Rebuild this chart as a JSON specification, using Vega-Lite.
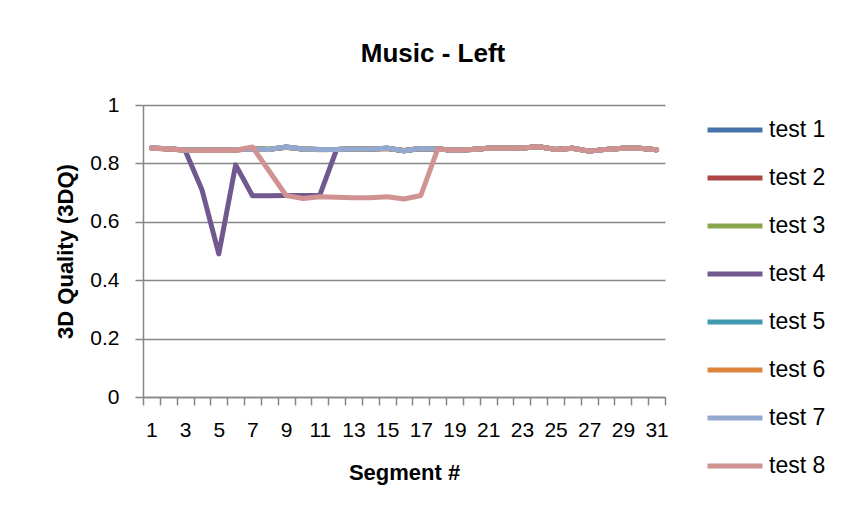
{
  "$schema": "https://vega.github.io/schema/vega-lite/v6.json",
  "width": 522,
  "height": 292,
  "autosize": {"type": "none"},
  "padding": {"left": 143, "top": 105, "right": 178, "bottom": 116},
  "background": "white",
  "title": {"text": "Music - Left", "fontSize": 26, "font": "Liberation Sans", "fontWeight": "bold", "anchor": "middle", "dx": 29, "offset": 27, "color": "black"},
  "data": {"values": [
    {"seg": 1, "test 1": 0.852, "test 2": 0.853, "test 3": 0.852, "test 4": 0.853, "test 5": 0.853, "test 6": 0.852, "test 7": 0.853, "test 8": 0.853},
    {"seg": 2, "test 1": 0.850, "test 2": 0.849, "test 3": 0.850, "test 4": 0.850, "test 5": 0.850, "test 6": 0.849, "test 7": 0.850, "test 8": 0.850},
    {"seg": 3, "test 1": 0.846, "test 2": 0.846, "test 3": 0.845, "test 4": 0.845, "test 5": 0.846, "test 6": 0.846, "test 7": 0.846, "test 8": 0.845},
    {"seg": 4, "test 1": 0.846, "test 2": 0.845, "test 3": 0.846, "test 4": 0.710, "test 5": 0.846, "test 6": 0.845, "test 7": 0.846, "test 8": 0.845},
    {"seg": 5, "test 1": 0.846, "test 2": 0.846, "test 3": 0.846, "test 4": 0.490, "test 5": 0.845, "test 6": 0.846, "test 7": 0.846, "test 8": 0.845},
    {"seg": 6, "test 1": 0.847, "test 2": 0.846, "test 3": 0.847, "test 4": 0.795, "test 5": 0.847, "test 6": 0.847, "test 7": 0.847, "test 8": 0.845},
    {"seg": 7, "test 1": 0.849, "test 2": 0.850, "test 3": 0.849, "test 4": 0.689, "test 5": 0.849, "test 6": 0.850, "test 7": 0.849, "test 8": 0.856},
    {"seg": 8, "test 1": 0.848, "test 2": 0.848, "test 3": 0.849, "test 4": 0.689, "test 5": 0.848, "test 6": 0.848, "test 7": 0.848, "test 8": 0.773},
    {"seg": 9, "test 1": 0.855, "test 2": 0.856, "test 3": 0.855, "test 4": 0.690, "test 5": 0.856, "test 6": 0.855, "test 7": 0.856, "test 8": 0.690},
    {"seg": 10, "test 1": 0.849, "test 2": 0.849, "test 3": 0.848, "test 4": 0.690, "test 5": 0.849, "test 6": 0.849, "test 7": 0.849, "test 8": 0.680},
    {"seg": 11, "test 1": 0.848, "test 2": 0.848, "test 3": 0.848, "test 4": 0.691, "test 5": 0.848, "test 6": 0.847, "test 7": 0.848, "test 8": 0.686},
    {"seg": 12, "test 1": 0.848, "test 2": 0.848, "test 3": 0.848, "test 4": 0.848, "test 5": 0.848, "test 6": 0.848, "test 7": 0.848, "test 8": 0.684},
    {"seg": 13, "test 1": 0.849, "test 2": 0.849, "test 3": 0.849, "test 4": 0.849, "test 5": 0.849, "test 6": 0.849, "test 7": 0.849, "test 8": 0.682},
    {"seg": 14, "test 1": 0.849, "test 2": 0.849, "test 3": 0.849, "test 4": 0.849, "test 5": 0.849, "test 6": 0.849, "test 7": 0.849, "test 8": 0.682},
    {"seg": 15, "test 1": 0.852, "test 2": 0.851, "test 3": 0.852, "test 4": 0.852, "test 5": 0.852, "test 6": 0.851, "test 7": 0.852, "test 8": 0.686},
    {"seg": 16, "test 1": 0.843, "test 2": 0.844, "test 3": 0.843, "test 4": 0.843, "test 5": 0.843, "test 6": 0.844, "test 7": 0.843, "test 8": 0.678},
    {"seg": 17, "test 1": 0.851, "test 2": 0.851, "test 3": 0.851, "test 4": 0.851, "test 5": 0.851, "test 6": 0.851, "test 7": 0.851, "test 8": 0.690},
    {"seg": 18, "test 1": 0.849, "test 2": 0.849, "test 3": 0.849, "test 4": 0.849, "test 5": 0.849, "test 6": 0.849, "test 7": 0.849, "test 8": 0.849},
    {"seg": 19, "test 1": 0.845, "test 2": 0.845, "test 3": 0.845, "test 4": 0.845, "test 5": 0.845, "test 6": 0.845, "test 7": 0.845, "test 8": 0.845},
    {"seg": 20, "test 1": 0.848, "test 2": 0.848, "test 3": 0.848, "test 4": 0.848, "test 5": 0.848, "test 6": 0.848, "test 7": 0.848, "test 8": 0.848},
    {"seg": 21, "test 1": 0.852, "test 2": 0.852, "test 3": 0.852, "test 4": 0.852, "test 5": 0.852, "test 6": 0.852, "test 7": 0.852, "test 8": 0.852},
    {"seg": 22, "test 1": 0.852, "test 2": 0.852, "test 3": 0.852, "test 4": 0.852, "test 5": 0.852, "test 6": 0.852, "test 7": 0.852, "test 8": 0.852},
    {"seg": 23, "test 1": 0.853, "test 2": 0.853, "test 3": 0.853, "test 4": 0.853, "test 5": 0.853, "test 6": 0.853, "test 7": 0.853, "test 8": 0.853},
    {"seg": 24, "test 1": 0.857, "test 2": 0.857, "test 3": 0.857, "test 4": 0.857, "test 5": 0.857, "test 6": 0.857, "test 7": 0.857, "test 8": 0.857},
    {"seg": 25, "test 1": 0.848, "test 2": 0.848, "test 3": 0.848, "test 4": 0.848, "test 5": 0.848, "test 6": 0.848, "test 7": 0.848, "test 8": 0.848},
    {"seg": 26, "test 1": 0.852, "test 2": 0.852, "test 3": 0.852, "test 4": 0.852, "test 5": 0.852, "test 6": 0.852, "test 7": 0.852, "test 8": 0.852},
    {"seg": 27, "test 1": 0.842, "test 2": 0.842, "test 3": 0.842, "test 4": 0.842, "test 5": 0.842, "test 6": 0.842, "test 7": 0.842, "test 8": 0.842},
    {"seg": 28, "test 1": 0.848, "test 2": 0.848, "test 3": 0.848, "test 4": 0.848, "test 5": 0.848, "test 6": 0.848, "test 7": 0.848, "test 8": 0.848},
    {"seg": 29, "test 1": 0.852, "test 2": 0.852, "test 3": 0.852, "test 4": 0.852, "test 5": 0.852, "test 6": 0.852, "test 7": 0.852, "test 8": 0.852},
    {"seg": 30, "test 1": 0.852, "test 2": 0.852, "test 3": 0.852, "test 4": 0.852, "test 5": 0.852, "test 6": 0.852, "test 7": 0.852, "test 8": 0.852},
    {"seg": 31, "test 1": 0.847, "test 2": 0.847, "test 3": 0.847, "test 4": 0.847, "test 5": 0.847, "test 6": 0.847, "test 7": 0.847, "test 8": 0.847}
  ]},
  "transform": [{"fold": ["test 1", "test 2", "test 3", "test 4", "test 5", "test 6", "test 7", "test 8"], "as": ["series", "v"]}],
  "mark": {"type": "line", "strokeWidth": 5, "strokeCap": "round", "strokeJoin": "round"},
  "encoding": {
    "x": {"field": "seg", "type": "ordinal", "sort": "ascending",
      "scale": {"type": "band", "paddingInner": 0, "paddingOuter": 0},
      "axis": {"title": "Segment #", "labelAngle": 0, "tickBand": "extent", "labelExpr": "datum.value % 2 == 1 ? datum.label : ''", "tickSize": 8, "labelPadding": 14, "titlePadding": 22, "grid": false}},
    "y": {"field": "v", "type": "quantitative",
      "scale": {"domain": [0, 1], "nice": false},
      "axis": {"values": [0, 0.2, 0.4, 0.6, 0.8, 1], "format": "~g", "title": "3D Quality (3DQ)", "tickSize": 8, "labelPadding": 16, "titlePadding": 12, "grid": true}},
    "color": {"field": "series", "type": "nominal",
      "scale": {"domain": ["test 1", "test 2", "test 3", "test 4", "test 5", "test 6", "test 7", "test 8"],
        "range": ["#4674AA", "#AA4643", "#89A54E", "#71588F", "#4198AF", "#DB843D", "#93A9CF", "#D19392"]},
      "legend": {"title": null}}
  },
  "config": {
    "view": {"stroke": null},
    "axis": {"domainColor": "#868686", "domainWidth": 1.5, "tickColor": "#868686", "tickWidth": 1.5, "gridColor": "#868686", "gridWidth": 1.5, "gridOpacity": 1,
      "labelFont": "Liberation Sans", "labelFontSize": 21, "labelColor": "black",
      "titleFont": "Liberation Sans", "titleFontSize": 22, "titleFontWeight": "bold", "titleColor": "black"},
    "legend": {"orient": "right", "offset": 45, "padding": 13, "symbolType": "M-3,0H3", "symbolSize": 336, "symbolStrokeWidth": 5,
      "labelFont": "Liberation Sans", "labelFontSize": 23, "labelColor": "black", "labelOffset": 22, "rowPadding": 24}
  }
}
